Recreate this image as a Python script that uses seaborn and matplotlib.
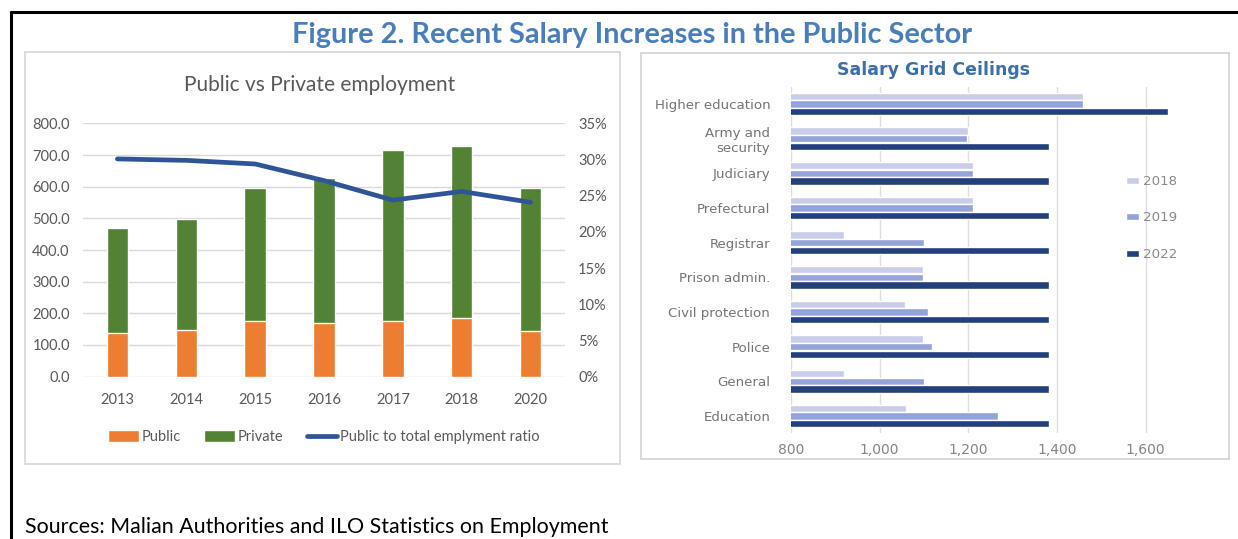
import numpy as np
import pandas as pd
import matplotlib
matplotlib.use("Agg")
import matplotlib.pyplot as plt
import seaborn as sns
from matplotlib.patches import Rectangle, Patch
from matplotlib.lines import Line2D
from matplotlib.ticker import FuncFormatter, MultipleLocator

# Employment (thousands) and public share of total employment (%)
years = ["2013", "2014", "2015", "2016", "2017", "2018", "2020"]
public = [139, 148, 175, 169, 175, 186, 144]
private = [330, 351, 421, 459, 542, 544, 452]
ratio = [30.1, 29.9, 29.4, 27.1, 24.4, 25.6, 24.1]

# Salary grid ceilings by corps
sectors = ["Higher education", "Army and\nsecurity", "Judiciary", "Prefectural",
           "Registrar", "Prison admin.", "Civil protection", "Police",
           "General", "Education"]
ceil_2018 = [1459, 1199, 1210, 1210, 919, 1098, 1057, 1097, 919, 1060]
ceil_2019 = [1459, 1197, 1210, 1210, 1101, 1098, 1109, 1118, 1101, 1268]
ceil_2022 = [1650, 1382, 1382, 1382, 1382, 1382, 1382, 1382, 1382, 1382]
grid_years = ["2018", "2019", "2022"]

W, H = 1238, 539
sns.set_theme(style="white")
plt.rcParams["font.family"] = ["Lato", "DejaVu Sans"]

fig = plt.figure(figsize=(W / 100, H / 100), dpi=100)
fig.patch.set_facecolor("white")


def box(x0, y0, x1, y1):
    """Pixel rectangle (top-left origin) to figure fraction [l, b, w, h]."""
    return [x0 / W, 1 - y1 / H, (x1 - x0) / W, (y1 - y0) / H]


def frame(x0, y0, x1, y1, color):
    fig.patches.append(Rectangle((x0 / W, 1 - y1 / H), (x1 - x0) / W, (y1 - y0) / H,
                                 transform=fig.transFigure, fill=False,
                                 ec=color, lw=1.3, zorder=0))


# page border
fig.add_artist(Line2D([11 / W, 1], [1 - 12 / H, 1 - 12 / H], color="black", lw=2.2,
                      transform=fig.transFigure))
fig.add_artist(Line2D([11 / W, 11 / W], [0, 1 - 12 / H], color="black", lw=2.2,
                      transform=fig.transFigure))

fig.text(632 / W, 1 - 35 / H, "Figure 2. Recent Salary Increases in the Public Sector",
         ha="center", va="center", fontsize=20.8, fontweight="bold", color="#4A7EBB")

# ---------------- left panel: employment ----------------
frame(25, 52, 620, 464, "#D9D9D9")
fig.text(320 / W, 1 - 85 / H, "Public vs Private employment", ha="center", va="center",
         fontsize=15, color="#595959")

emp = pd.DataFrame({"year": years, "public": public, "private": private})
emp["total"] = emp["public"] + emp["private"]

ax = fig.add_axes(box(83, 123.5, 565, 376.5))
sns.barplot(data=emp, x="year", y="total", color="#548235", width=0.31,
            saturation=1, ax=ax)
sns.barplot(data=emp, x="year", y="public", color="#ED7D31", width=0.31,
            saturation=1, ax=ax)
ax.set_ylim(0, 800)
ax.yaxis.set_major_locator(MultipleLocator(100))
ax.yaxis.set_major_formatter(FuncFormatter(lambda v, p: f"{v:.1f}"))
ax.grid(axis="y", color="#D9D9D9", lw=1)
ax.set_axisbelow(True)
for s in ax.spines.values():
    s.set_visible(False)
ax.tick_params(axis="y", length=0, pad=9.5, labelsize=10.5, colors="#595959")
ax.tick_params(axis="x", length=0, pad=12, labelsize=10.5, colors="#595959")
ax.set_xlabel("")
ax.set_ylabel("")

ax2 = ax.twinx()
sns.lineplot(x=np.arange(len(years)), y=ratio, ax=ax2, color="#2F5597", lw=3.4,
             solid_capstyle="round")
ax2.set_ylim(0, 35)
ax2.yaxis.set_major_locator(MultipleLocator(5))
ax2.yaxis.set_major_formatter(FuncFormatter(lambda v, p: f"{v:.0f}%"))
ax2.grid(False)
for s in ax2.spines.values():
    s.set_visible(False)
ax2.tick_params(axis="y", length=0, pad=9.5, labelsize=10.5, colors="#595959")
ax2.set_ylabel("")
ax.set_xlim(-0.5, len(years) - 0.5)

fig.legend(handles=[Patch(fc="#ED7D31"), Patch(fc="#548235"),
                    Line2D([], [], color="#2F5597", lw=3.4)],
           labels=["Public", "Private", "Public to total emplyment ratio"],
           loc="center", bbox_to_anchor=(324 / W, 1 - 437 / H), ncol=3,
           frameon=False, fontsize=10.5, handlelength=2.1, handleheight=0.8,
           handletextpad=0.2, columnspacing=1.6, labelcolor="#595959",
           borderpad=0, borderaxespad=0)

# ---------------- right panel: salary grid ceilings ----------------
frame(641, 53, 1229, 459, "#D6D6D6")
fig.text(934 / W, 1 - 70 / H, "Salary Grid Ceilings", ha="center", va="center",
         fontsize=12.5, fontweight="bold", color="#3E6EA6", family="DejaVu Sans")

grid = pd.DataFrame({
    "sector": sectors * 3,
    "year": [y for y in grid_years for _ in sectors],
    "ceiling": ceil_2018 + ceil_2019 + ceil_2022,
})

axr = fig.add_axes(box(791, 86.6, 1190, 433.4))
sns.barplot(data=grid, y="sector", x="ceiling", hue="year", orient="h",
            hue_order=grid_years, order=sectors,
            palette=["#C9CDE8", "#94A3D8", "#233F7D"], width=0.66, gap=0.06,
            saturation=1, ax=axr)
axr.set_xlim(800, 1700)
axr.set_xticks([800, 1000, 1200, 1400, 1600])
axr.xaxis.set_major_formatter(FuncFormatter(lambda v, p: f"{v:,.0f}"))
axr.grid(axis="x", color="#DDDDDD", lw=1)
axr.set_axisbelow(True)
for s in axr.spines.values():
    s.set_visible(False)
axr.tick_params(axis="y", length=0, pad=15, labelsize=9.6, colors="#757575")
axr.tick_params(axis="x", length=0, pad=7, labelsize=10, colors="#858585")
for lbl in axr.get_yticklabels() + axr.get_xticklabels():
    lbl.set_fontfamily("DejaVu Sans")
axr.set_xlabel("")
axr.set_ylabel("")

handles, labels = axr.get_legend_handles_labels()
axr.get_legend().remove()
fig.legend(handles, labels, loc="center left",
           bbox_to_anchor=(1126 / W, 1 - 218 / H), frameon=False,
           handlelength=1.0, handleheight=0.42, handletextpad=0.3,
           labelspacing=1.75, labelcolor="#8A8A8A",
           borderpad=0, borderaxespad=0, prop={"family": "DejaVu Sans", "size": 9.6})

fig.text(25 / W, 1 - 527 / H, "Sources: Malian Authorities and ILO Statistics on Employment",
         ha="left", va="center", fontsize=15.4, color="black")

fig.savefig("out.png", dpi=100)
